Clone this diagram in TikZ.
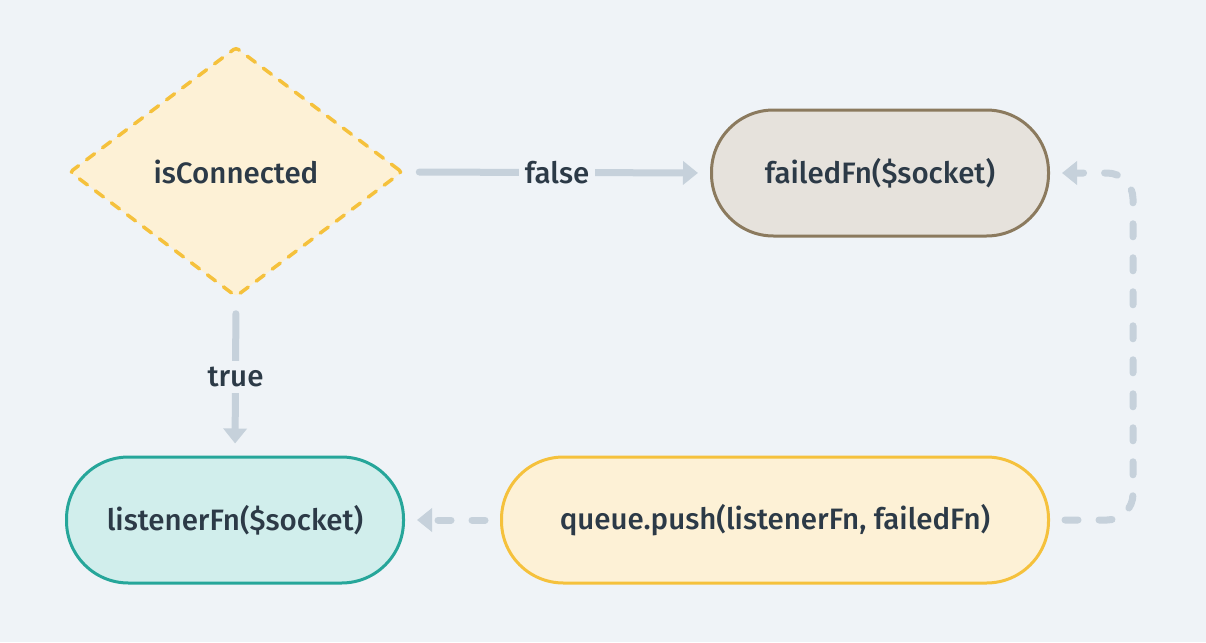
\documentclass[tikz,border=0pt]{standalone}
\usepackage{fontspec}
\setmainfont{Fira Sans}[UprightFont=* Medium]
\usetikzlibrary{shapes.geometric,arrows.meta}
\definecolor{bgcol}{HTML}{EFF3F7}
\definecolor{linkcol}{HTML}{C6D1DB}
\definecolor{inkcol}{HTML}{2C3A47}
\definecolor{sandfill}{HTML}{FDF1D6}
\definecolor{sandline}{HTML}{F5C13C}
\definecolor{failfill}{HTML}{E6E2DC}
\definecolor{failline}{HTML}{8B7A5E}
\definecolor{okfill}{HTML}{D1EEEC}
\definecolor{okline}{HTML}{26A69A}
\tikzset{
  flowtext/.style={font=\fontsize{29.5}{33}\selectfont, text=inkcol},
  pill/.style={flowtext, draw, line width=3pt, rounded corners=62pt,
    minimum height=126pt, inner sep=0pt},
  link/.style={draw=linkcol, line width=7pt, line cap=round,
    -{Triangle[width=23pt,length=15pt]}, shorten <=15pt, shorten >=12pt},
  dashlink/.style={link, dash pattern=on 13pt off 21pt},
  linklabel/.style={flowtext, fill=bgcol, inner sep=6pt}
}
\begin{document}
\begin{tikzpicture}[x=1pt,y=-1pt]
\fill[bgcol] (0,0) rectangle (1206,642);
\useasboundingbox (0,0) rectangle (1206,642);
% nodes
\node[flowtext, diamond, draw=sandline, fill=sandfill, line width=3.5pt,
  dash pattern=on 10pt off 10pt, line cap=round, rounded corners=3pt,
  minimum width=333pt, minimum height=250pt, inner sep=0pt] (check) at (236,172) {isConnected};
\node[pill, draw=failline, fill=failfill, minimum width=337pt] (failed) at (880,173) {failedFn(\$socket)};
\node[pill, draw=okline, fill=okfill, minimum width=337pt] (listener) at (235,520) {listenerFn(\$socket)};
\node[pill, draw=sandline, fill=sandfill, minimum width=547pt] (queue) at (775,520) {queue.push(listenerFn, failedFn)};
% connectors
\draw[link] (check.east) -- node[linklabel] {false} (failed.west);
\draw[link] (check.south) -- node[linklabel] {true} (listener.north);
\draw[dashlink, rounded corners=26pt] (queue.east) -- (1133,520) -- (1133,173) -- (failed.east);
\draw[dashlink] (queue.west) -- (listener.east);
\end{tikzpicture}
\end{document}
